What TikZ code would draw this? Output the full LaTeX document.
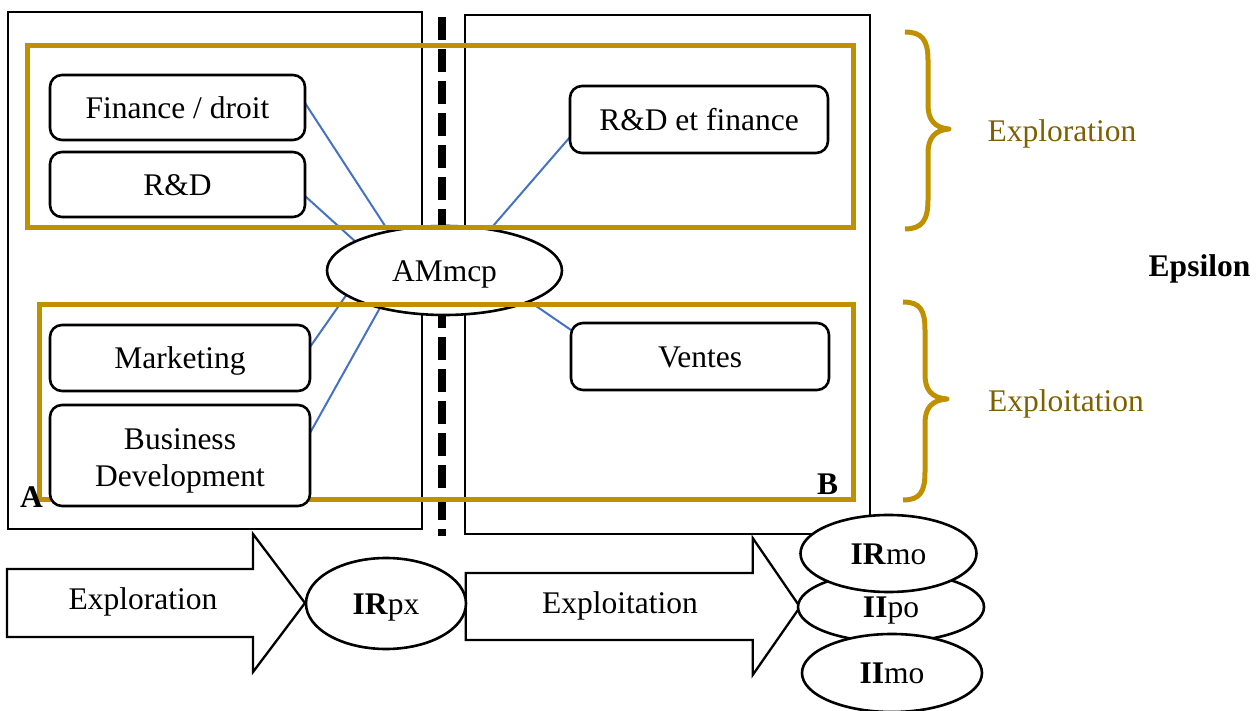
\documentclass[tikz,border=0pt]{standalone}
\usepackage{fontspec}
\setmainfont{Liberation Serif}
\usetikzlibrary{shapes.geometric}
\definecolor{gold}{HTML}{BF9000}
\definecolor{goldtext}{HTML}{7F6000}
\definecolor{linkblue}{HTML}{4472C4}
\pgfdeclarelayer{back}
\pgfsetlayers{back,main}
\begin{document}
\begin{tikzpicture}[x=0.5pt,y=-0.5pt,
  every node/.style={font=\fontsize{15.75pt}{18.5pt}\selectfont, inner sep=0pt, outer sep=0pt, text height=10.76pt, text depth=0pt},
  unit/.style={draw, line width=1.3pt, rounded corners=6pt, fill=white, align=center},
  oval/.style={draw, ellipse, line width=1.3pt, fill=white},
  frame/.style={draw, line width=1pt},
  goldframe/.style={draw=gold, line width=2.5pt},
  link/.style={draw=linkblue, line width=1pt},
  brace/.style={draw=gold, line width=2.5pt, line join=round},
  blockarrow/.style={draw, line width=1.15pt, fill=white, line join=miter},
  sep/.style={draw, line width=4pt, dash pattern=on 11.5pt off 4.5pt},
  goldlabel/.style={text=goldtext}
]
\useasboundingbox (0,0) rectangle (1260,711);

% frames and separator
\draw[frame] (8,12) rectangle (422,529);
\draw[frame] (464.5,15.3) rectangle (869.7,534);
\draw[sep] (441.7,17) -- (441.7,536);

% central ellipse
\node[oval, minimum width=117.5pt, minimum height=44.5pt] (amm) at (444.5,270.5) {AMmcp};

% gold frames
\draw[goldframe] (27.5,46) rectangle (853,227.5);
\draw[goldframe] (39.5,305) rectangle (853,499.5);

% unit boxes
\node[unit, minimum width=127.5pt, minimum height=32.5pt] (fin) at (177.5,107.5) {Finance / droit};
\node[unit, minimum width=127.5pt, minimum height=32.5pt] (rd) at (177.5,184.5) {R\&D};
\node[unit, minimum width=129pt, minimum height=33.5pt] (rdf) at (699,119.5) {R\&D et finance};
\node[unit, minimum width=130pt, minimum height=33pt] (mkt) at (180,358) {Marketing};
\node[unit, minimum width=130pt, minimum height=50.5pt, text height=, text depth=] (bd) at (180,455.5) {\rule{0pt}{15.5pt}Business\\Development};
\node[unit, minimum width=129pt, minimum height=33.5pt] (ven) at (700,356.5) {Ventes};

% links (behind)
\begin{pgfonlayer}{back}
\draw[link] ([yshift=2.25pt]fin.east) -- (amm.145.8);
\draw[link] ([yshift=-5.75pt]rd.east) -- (amm.162.7);
\draw[link] ([yshift=5.5pt]mkt.east) -- (amm.194.9);
\draw[link] ([yshift=11.25pt]bd.east) -- (amm.210.7);
\draw[link] ([yshift=-8.75pt]rdf.west) -- (amm.42);
\draw[link] ([yshift=13.25pt]ven.west) -- (amm.-20.8);
\end{pgfonlayer}

% corner labels
\node[font=\fontsize{15.75pt}{18.5pt}\selectfont\bfseries] (labA) at (31.5,497) {A};
\node[font=\fontsize{15.75pt}{18.5pt}\selectfont\bfseries] (labB) at (827.5,484) {B};

% braces
\draw[brace] (905,32) .. controls (922,32) and (928,40) .. (928,60) -- (928,105)
  .. controls (928,120) and (935,128) .. (949,129)
  .. controls (935,130) and (928,138) .. (928,153) -- (928,200)
  .. controls (928,220) and (922,229) .. (905,229);
\draw[brace] (903,302) .. controls (920,302) and (925,310) .. (925,330) -- (925,375)
  .. controls (925,390) and (932,398) .. (947,399)
  .. controls (932,400) and (925,408) .. (925,423) -- (925,472)
  .. controls (925,492) and (920,500) .. (903,500);
\node[goldlabel] (lexplo) at (1062,131) {Exploration};
\node[goldlabel] (lexploi) at (1066,401) {Exploitation};
\node[font=\fontsize{15.75pt}{18.5pt}\selectfont\bfseries] (eps) at (1199.5,266) {Epsilon};

% block arrows
\draw[blockarrow] (7,569) -- (253,569) -- (253,534) -- (305,603) -- (253,672) -- (253,637) -- (7,637) -- cycle;
\node (aexplo) at (143,599) {Exploration};
\draw[blockarrow] (465.7,573) -- (752.7,573) -- (752.7,538) -- (800,607) -- (752.7,675) -- (752.7,640) -- (465.7,640) -- cycle;
\node (aexploi) at (620,603) {Exploitation};

% result ellipses
\node[oval, minimum width=80pt, minimum height=45.5pt] (irpx) at (386,603.5) {\textbf{IR}px};
\node[oval, minimum width=93pt, minimum height=35pt] (iipo) at (891,607) {\textbf{II}po};
\node[oval, minimum width=90pt, minimum height=39pt] (iimo) at (892,673) {\textbf{II}mo};
\node[oval, minimum width=88pt, minimum height=38.5pt] (irmo) at (888.5,553.5) {\textbf{IR}mo};
\end{tikzpicture}
\end{document}
